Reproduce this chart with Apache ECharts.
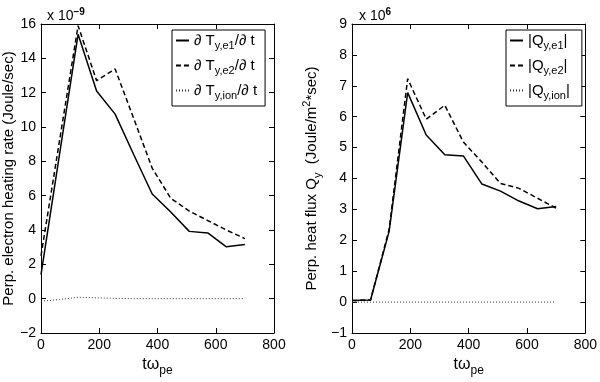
<!DOCTYPE html>
<html>
<head>
<meta charset="utf-8">
<script src="https://cdn.jsdelivr.net/npm/echarts@6/dist/echarts.min.js"></script>
<style>
  html, body { margin: 0; padding: 0; background: #fff; }
  #main { width: 600px; height: 382px; }
</style>
</head>
<body>
<div id="main"></div>
<script>
// time axis t*omega_pe (12 saved steps)
const tValues = [0, 63.6, 127.3, 190.9, 254.5, 318.2, 381.8, 445.5, 509.1, 572.7, 636.4, 700];

// left panel, units of 1e-9 Joule/sec
const heatE1 = [1.4, 8.4, 15.4, 12.1, 10.75, 8.4, 6.1, 5.05, 3.92, 3.83, 3.02, 3.15];
const heatE2 = [2.5, 9.2, 15.9, 12.7, 13.38, 10.5, 7.6, 5.85, 5.1, 4.55, 4.0, 3.5];
const heatIon = [-0.15, -0.05, 0.08, 0.05, 0.02, 0.0, 0.0, 0.0, 0.0, 0.0, 0.0, 0.0];

// right panel, units of 1e6 Joule/(m^2 sec)
const fluxE1 = [0.05, 0.07, 2.29, 6.78, 5.41, 4.77, 4.73, 3.82, 3.59, 3.27, 3.02, 3.09];
const fluxE2 = [0.05, 0.07, 2.35, 7.23, 5.92, 6.37, 5.18, 4.53, 3.84, 3.68, 3.36, 3.04];
const fluxIon = [0, 0, 0, 0, 0, 0, 0, 0, 0, 0, 0, 0];

const FONT = 'Liberation Sans';

function pairs(ys) {
  return tValues.map((t, i) => [t, ys[i]]);
}

function minus(v) {
  return String(v).replace('-', '\u2212');
}

const sub = { fontFamily: FONT, fontSize: 11, color: '#000', padding: [10, 0, 0, 0] };
const sup = { fontFamily: FONT, fontSize: 10, color: '#000', padding: [0, 0, 9, 0] };
const txt = { fontFamily: FONT, fontSize: 15, color: '#000' };
const ttl = { fontFamily: FONT, fontSize: 14, color: '#000', fontWeight: 'normal' };

function boxAxes(gi, yMin, yMax, yInt) {
  const tick = { show: true, inside: true, length: 5, lineStyle: { color: '#000' } };
  const line = { show: true, onZero: false, lineStyle: { color: '#000', width: 1 } };
  return {
    x: [
      {
        type: 'value', gridIndex: gi, min: 0, max: 800, interval: 200,
        axisLine: line, axisTick: tick, splitLine: { show: false },
        axisLabel: { fontFamily: FONT, fontSize: 14, color: '#000', margin: 5 },
        name: '{a|t\u03c9}{s|pe}', nameLocation: 'middle', nameGap: 20,
        nameTextStyle: { rich: { a: { fontFamily: FONT, fontSize: 16, color: '#000' }, s: { fontFamily: FONT, fontSize: 12, color: '#000', padding: [12, 0, 0, 0] } } }
      },
      {
        type: 'value', gridIndex: gi, position: 'top', min: 0, max: 800, interval: 200,
        axisLine: line, axisTick: tick, axisLabel: { show: false }, splitLine: { show: false }
      }
    ],
    y: [
      {
        type: 'value', gridIndex: gi, min: yMin, max: yMax, interval: yInt,
        axisLine: line, axisTick: tick, splitLine: { show: false },
        axisLabel: { fontFamily: FONT, fontSize: 14, color: '#000', margin: 5, formatter: minus }
      },
      {
        type: 'value', gridIndex: gi, position: 'right', min: yMin, max: yMax, interval: yInt,
        axisLine: line, axisTick: tick, axisLabel: { show: false }, splitLine: { show: false }
      }
    ]
  };
}

const leftAx = boxAxes(0, -2, 16, 2);
const rightAx = boxAxes(1, -1, 9, 1);

leftAx.y[0].name = 'Perp. electron heating rate (Joule/sec)';
leftAx.y[0].nameLocation = 'middle';
leftAx.y[0].nameGap = 21;
leftAx.y[0].nameTextStyle = { fontFamily: FONT, fontSize: 15, color: '#000' };

rightAx.y[0].name = '{a|Perp. heat flux Q}{s|y}{a|  (Joule/m}{p|2}{a|*sec)}';
rightAx.y[0].nameLocation = 'middle';
rightAx.y[0].nameGap = 29;
rightAx.y[0].nameTextStyle = {
  rich: {
    a: { fontFamily: FONT, fontSize: 15, color: '#000' },
    s: { fontFamily: FONT, fontSize: 11, color: '#000', padding: [11, 0, 0, 0] },
    p: { fontFamily: FONT, fontSize: 11, color: '#000', padding: [0, 0, 10, 0] }
  }
};

const legendNames = {
  Te1: '{a|\u2202 T}{s|y,e1}{a|/\u2202 t}',
  Te2: '{a|\u2202 T}{s|y,e2}{a|/\u2202 t}',
  Tion: '{a|\u2202 T}{s|y,ion}{a|/\u2202 t}',
  Qe1: '{a||Q}{s|y,e1}{a||}',
  Qe2: '{a||Q}{s|y,e2}{a||}',
  Qion: '{a||Q}{s|y,ion}{a||}'
};

function legendBox(names, left, padRight) {
  return {
    data: names, orient: 'vertical', left: left, top: 30,
    backgroundColor: '#fff', borderColor: '#000', borderWidth: 1,
    padding: [3, padRight, 5, 3], itemGap: 7, itemWidth: 13, itemHeight: 12,
    itemStyle: { opacity: 0 },
    formatter: n => legendNames[n],
    textStyle: { rich: { a: txt, s: sub } }
  };
}

function mkLine(name, data, xi, style) {
  return {
    name: name, type: 'line', xAxisIndex: xi, yAxisIndex: xi,
    data: pairs(data), symbol: 'none', silent: true,
    lineStyle: Object.assign({ color: '#000', width: 1.5 }, style),
    itemStyle: { color: '#000' }
  };
}

const option = {
  animation: false,
  backgroundColor: '#fff',
  title: [
    { text: '{a|x 10}{p|\u22129}', left: 42, top: 2, textStyle: { rich: { a: ttl, p: sup } } },
    { text: '{a|x 10}{p|6}', left: 354, top: 2, textStyle: { rich: { a: ttl, p: sup } } }
  ],
  grid: [
    { left: 41, top: 24, width: 233, height: 312 },
    { left: 352, top: 24, width: 236, height: 312 }
  ],
  xAxis: [leftAx.x[0], leftAx.x[1], rightAx.x[0], rightAx.x[1]],
  yAxis: [leftAx.y[0], leftAx.y[1], rightAx.y[0], rightAx.y[1]],
  legend: [
    legendBox(['Te1', 'Te2', 'Tion'], 172, 8),
    legendBox(['Qe1', 'Qe2', 'Qion'], 506, 12)
  ],
  series: [
    mkLine('Te1', heatE1, 0, {}),
    mkLine('Te2', heatE2, 0, { type: [5, 3] }),
    mkLine('Tion', heatIon, 0, { type: [1, 2], width: 1, color: '#333' }),
    mkLine('Qe1', fluxE1, 2, {}),
    mkLine('Qe2', fluxE2, 2, { type: [5, 3] }),
    mkLine('Qion', fluxIon, 2, { type: [1, 2], width: 1, color: '#333' })
  ]
};

const chart = echarts.init(document.getElementById('main'));
chart.setOption(option);
</script>
</body>
</html>
